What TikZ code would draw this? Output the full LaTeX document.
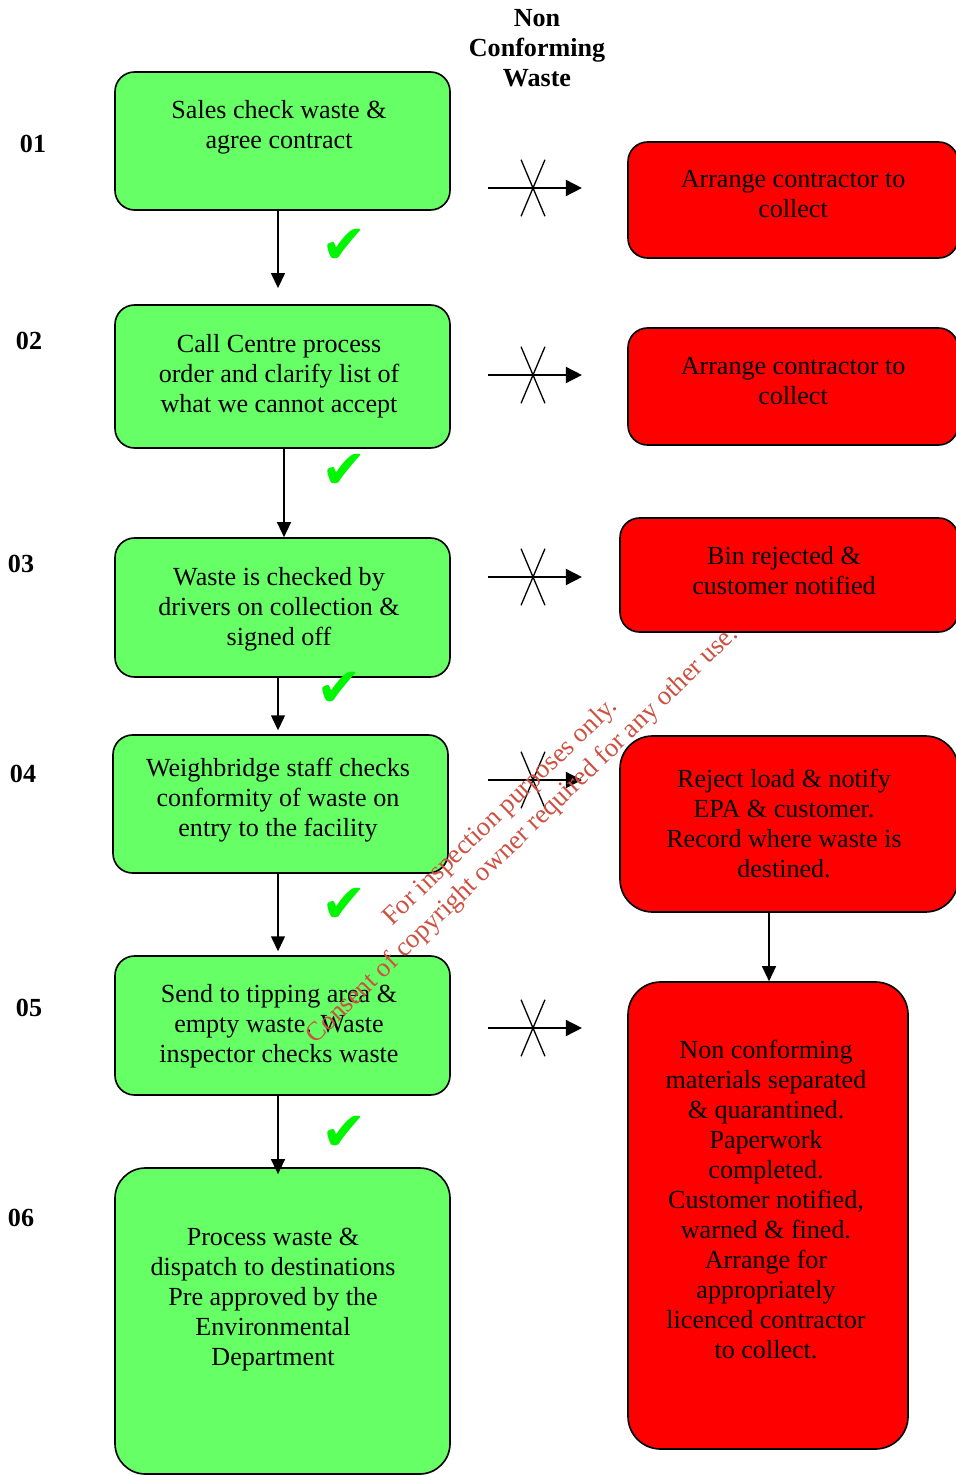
\documentclass[tikz,border=0pt]{standalone}
\usepackage{fontspec}
\setmainfont{Liberation Serif}
\newfontfamily\symbfont{DejaVu Sans}
\usetikzlibrary{fit,arrows.meta}
\definecolor{okgreen}{RGB}{102,255,102}
\definecolor{ncred}{RGB}{255,0,0}
\definecolor{tickgreen}{RGB}{0,245,0}
\definecolor{stampred}{RGB}{205,80,65}
\tikzset{
    step_box/.style = {
        draw=black,
        line width=0.75pt,
        fill=okgreen,
        rounded corners=9pt,
        inner sep=0pt
    },
    reject_box/.style = {
        draw=black,
        line width=0.75pt,
        fill=ncred,
        rounded corners=9pt,
        inner sep=0pt
    },
    box_text/.style = {
        align=center,
        inner sep=0pt,
        font=\fontsize{12}{13.8}\selectfont
    },
    row_label/.style = {
        inner sep=0pt,
        font=\fontsize{12}{13.8}\selectfont\bfseries
    },
    flow_line/.style = {
        draw=black,
        line width=0.75pt,
        -{Triangle[length=6.9pt,width=6.4pt]}
    },
    nc_line/.style = {
        draw=black,
        line width=0.75pt,
        -{Triangle[length=7.4pt,width=7.4pt]}
    },
    cross_line/.style = {
        draw=black,
        line width=0.6pt
    },
    tick_mark/.style = {
        inner sep=0pt,
        text=tickgreen,
        font=\symbfont\fontsize{25}{25}\selectfont
    },
    stamp/.style = {
        align=center,
        inner sep=0pt,
        text=stampred,
        rotate=44,
        font=\fontsize{12.3}{14.6}\selectfont
    },
}

\begin{document}
\begin{tikzpicture}[x=0.46pt, y=-0.46pt]
                \useasboundingbox (0,0) rectangle (955,1475);

                % accepted path
                \node[step_box, fit={(115,72) (450,210)}] (s1) {};
                \node[step_box, fit={(115,305) (450,448)}] (s2) {};
                \node[step_box, fit={(115,538) (450,677)}] (s3) {};
                \node[step_box, fit={(113,735) (448,873)}] (s4) {};
                \node[step_box, fit={(115,956) (450,1095)}] (s5) {};
                \node[step_box, rounded corners=14pt, fit={(115,1168) (450,1474)}] (s6) {};

                \node[box_text] (s1t) at (279,127) {Sales check waste \&\\agree contract};
                \node[box_text] (s2t) at (279,376) {Call Centre process\\order and clarify list of\\what we cannot accept};
                \node[box_text] (s3t) at (279,609) {Waste is checked by\\drivers on collection \&\\signed off};
                \node[box_text] (s4t) at (278,800) {Weighbridge staff checks\\conformity of waste on\\entry to the facility};
                \node[box_text] (s5t) at (279,1026) {Send to tipping area \&\\empty waste. Waste\\inspector checks waste};
                \node[box_text] (s6t) at (273,1300) {Process waste \&\\dispatch to destinations\\Pre approved by the\\Environmental\\Department};

                % non conforming side
                \node[box_text, font=\fontsize{12}{13.8}\selectfont\bfseries] (head) at (537,48) {Non\\Conforming\\Waste};

                \node[reject_box, fit={(628,142) (958,258)}] (r1) {};
                \node[reject_box, fit={(628,328) (958,445)}] (r2) {};
                \node[reject_box, fit={(620,518) (958,632)}] (r3) {};
                \node[reject_box, rounded corners=15pt, fit={(620,736) (958,912)}] (r4) {};
                \node[reject_box, rounded corners=15pt, fit={(628,982) (908,1449)}] (r5) {};

                \node[box_text] (r1t) at (793,194) {Arrange contractor to\\collect};
                \node[box_text] (r2t) at (793,381) {Arrange contractor to\\collect};
                \node[box_text] (r3t) at (784,571) {Bin rejected \&\\customer notified};
                \node[box_text] (r4t) at (784,823) {Reject load \& notify\\EPA \& customer.\\Record where waste is\\destined.};
                \node[box_text] (r5t) at (766,1199) {Non conforming\\materials separated\\\& quarantined.\\Paperwork\\completed.\\Customer notified,\\warned \& fined.\\Arrange for\\appropriately\\licenced contractor\\to collect.};

                % stage numbers
                \node[row_label] (n1) at (33,144) {01};
                \node[row_label] (n2) at (29,341) {02};
                \node[row_label] (n3) at (21,564) {03};
                \node[row_label] (n4) at (23,774) {04};
                \node[row_label] (n5) at (29,1008) {05};
                \node[row_label] (n6) at (21,1218) {06};

                % flow down
                \coordinate (colA) at (278,0);
                \coordinate (colB) at (284,0);
                \coordinate (colR) at (769,0);
                \draw[flow_line, shorten >=7.4pt] (s1.south -| colA) -- (s2.north -| colA);
                \draw[flow_line] (s2.south -| colB) -- (s3.north -| colB);
                \draw[flow_line, shorten >=1.8pt] (s3.south -| colA) -- (s4.north -| colA);
                \draw[flow_line, shorten >=1.8pt] (s4.south -| colA) -- (s5.north -| colA);
                \draw[flow_line, shorten >=-3.2pt] (s5.south -| colA) -- (s6.north -| colA);
                \draw[flow_line] (r4.south -| colR) -- (r5.north -| colR);

                \node[tick_mark] (k1) at (344,246) {✔};
                \node[tick_mark] (k2) at (344,471) {✔};
                \node[tick_mark] (k3) at (339,689) {✔};
                \node[tick_mark] (k4) at (344,905) {✔};
                \node[tick_mark] (k5) at (344,1133) {✔};

                % rejected arrows
                \coordinate (x1) at (533,188);
                \coordinate (x2) at (533,375);
                \coordinate (x3) at (533,577);
                \coordinate (x4) at (533,780);
                \coordinate (x5) at (533,1028);
                \draw[nc_line] ([xshift=-20.7pt]x1) -- ([xshift=22.5pt]x1);
                \draw[nc_line] ([xshift=-20.7pt]x2) -- ([xshift=22.5pt]x2);
                \draw[nc_line] ([xshift=-20.7pt]x3) -- ([xshift=22.5pt]x3);
                \draw[nc_line] ([xshift=-20.7pt]x4) -- ([xshift=22.5pt]x4);
                \draw[nc_line] ([xshift=-20.7pt]x5) -- ([xshift=22.5pt]x5);
                \draw[cross_line] ([shift={(-5.5pt,13pt)}]x1) -- ([shift={(5.5pt,-13pt)}]x1) ([shift={(5.5pt,13pt)}]x1) -- ([shift={(-5.5pt,-13pt)}]x1);
                \draw[cross_line] ([shift={(-5.5pt,13pt)}]x2) -- ([shift={(5.5pt,-13pt)}]x2) ([shift={(5.5pt,13pt)}]x2) -- ([shift={(-5.5pt,-13pt)}]x2);
                \draw[cross_line] ([shift={(-5.5pt,13pt)}]x3) -- ([shift={(5.5pt,-13pt)}]x3) ([shift={(5.5pt,13pt)}]x3) -- ([shift={(-5.5pt,-13pt)}]x3);
                \draw[cross_line] ([shift={(-5.5pt,13pt)}]x4) -- ([shift={(5.5pt,-13pt)}]x4) ([shift={(5.5pt,13pt)}]x4) -- ([shift={(-5.5pt,-13pt)}]x4);
                \draw[cross_line] ([shift={(-5.5pt,13pt)}]x5) -- ([shift={(5.5pt,-13pt)}]x5) ([shift={(5.5pt,13pt)}]x5) -- ([shift={(-5.5pt,-13pt)}]x5);

                \node[stamp] (wm) at (512,824) {For inspection purposes only.\\Consent of copyright owner required for any other use.};
\end{tikzpicture}
\end{document}
